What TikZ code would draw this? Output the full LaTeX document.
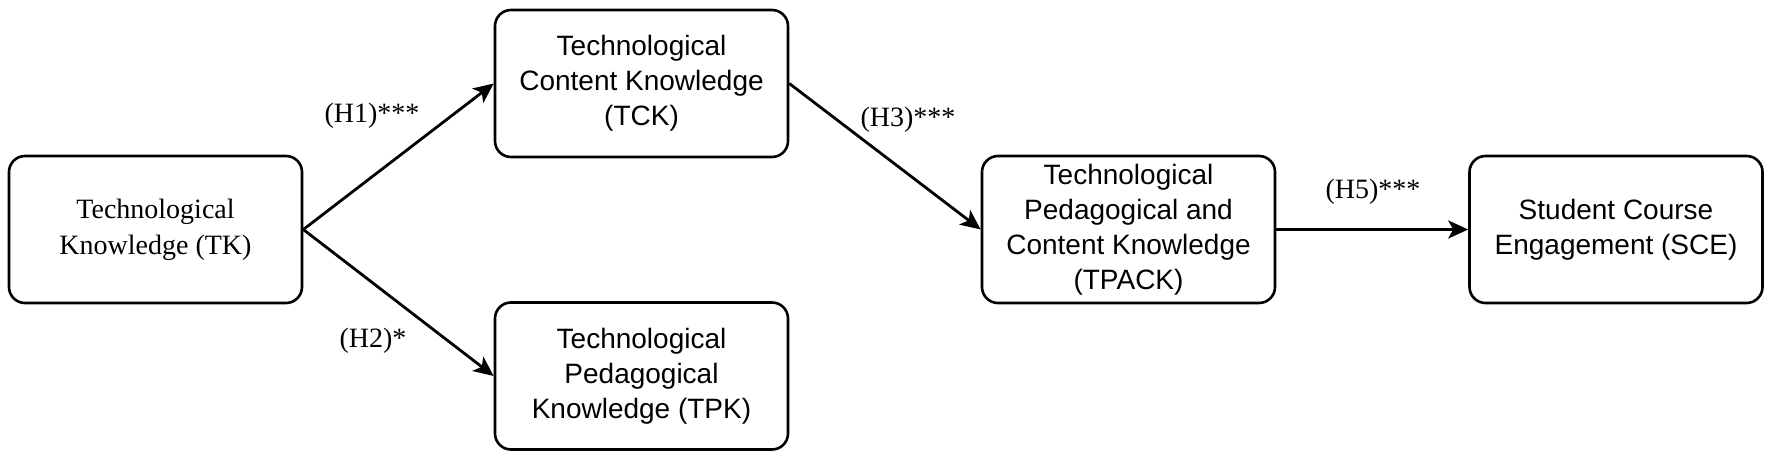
\documentclass[tikz,border=0pt]{standalone}
\usepackage{fontspec}
\setmainfont{Liberation Serif}
\newfontfamily\arialfont{Liberation Sans}
\usetikzlibrary{arrows.meta}
\begin{document}
\begin{tikzpicture}[x=0.5pt,y=-0.5pt,
  box/.style={draw, line width=1.3pt, rounded corners=8pt, minimum width=146.5pt, minimum height=73.5pt, align=center, inner sep=1pt, font=\arialfont\fontsize{14}{17.5}\selectfont},
  serifbox/.style={box, font=\rmfamily\fontsize{14}{18}\selectfont},
  arr/.style={line width=1.4pt, -{Stealth[length=10pt,width=9pt,inset=2.5pt]}},
  lbl/.style={font=\rmfamily\fontsize{14}{17}\selectfont, inner sep=0pt}]
\useasboundingbox (0,0) rectangle (1772,460);
\node[serifbox] (tk) at (155.5,229.5) {Technological\\Knowledge (TK)};
\node[box] (tck) at (641.5,83.5) {Technological\\Content Knowledge\\(TCK)};
\node[box] (tpk) at (641.5,376) {Technological\\Pedagogical\\Knowledge (TPK)};
\node[box] (tpack) at (1128.5,229.5) {Technological\\Pedagogical and\\Content Knowledge\\(TPACK)};
\node[box] (sce) at (1616,229.5) {Student Course\\Engagement (SCE)};
\draw[arr] (tk.east) -- (tck.west);
\draw[arr] (tk.east) -- (tpk.west);
\draw[arr] (tck.east) -- (tpack.west);
\draw[arr] (tpack.east) -- (sce.west);
\node[lbl] (h1) at (372,116) {(H1)***};
\node[lbl] (h2) at (373,341) {(H2)*};
\node[lbl] (h3) at (908,120) {(H3)***};
\node[lbl] (h5) at (1373,192) {(H5)***};
\end{tikzpicture}
\end{document}
